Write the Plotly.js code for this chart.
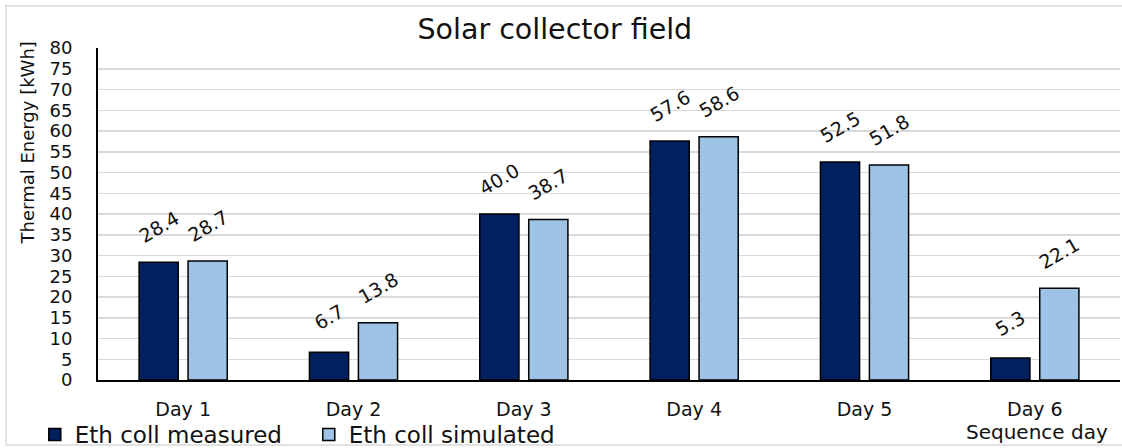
<!DOCTYPE html>
<html>
<head>
<meta charset="utf-8">
<script src="https://cdn.plot.ly/plotly-3.0.1.min.js"></script>
<style>
  html, body { margin: 0; padding: 0; background: #ffffff; }
  #chart { width: 1122px; height: 448px; }
</style>
</head>
<body>
<div id="chart"></div>
<script>
// Daily thermal energy of the solar collector field
const days = ['Day 1', 'Day 2', 'Day 3', 'Day 4', 'Day 5', 'Day 6'];
const measured = [28.4, 6.7, 40.0, 57.6, 52.5, 5.3];
const simulated = [28.7, 13.8, 38.7, 58.6, 51.8, 22.1];
const seriesNames = ['Eth coll measured', 'Eth coll simulated'];

const darkBlue = '#002060';
const lightBlue = '#9dc3e6';
const textFont = 'DejaVu Sans, sans-serif';
const ink = '#111111';

const traces = [
  {
    type: 'bar', name: seriesNames[0], x: days, y: measured,
    marker: { color: darkBlue, line: { color: '#000000', width: 1.5 } },
    hoverinfo: 'skip'
  },
  {
    type: 'bar', name: seriesNames[1], x: days, y: simulated,
    marker: { color: lightBlue, line: { color: '#000000', width: 1.5 } },
    hoverinfo: 'skip'
  }
];

// value labels, tilted above each bar
const labelShift = 24.5;
const annotations = [];
[measured, simulated].forEach((vals, s) => {
  vals.forEach((v, i) => {
    annotations.push({
      x: days[i], y: v, xref: 'x', yref: 'y',
      text: v.toFixed(1), showarrow: false, textangle: -30,
      xanchor: 'center', yanchor: 'middle',
      xshift: s === 0 ? -labelShift : labelShift, yshift: 35,
      font: { family: textFont, size: 19, color: ink }
    });
  });
});

// y-axis title
annotations.push({
  xref: 'paper', yref: 'paper', x: -0.069, y: 0.714,
  text: 'Thermal Energy [kWh]', showarrow: false, textangle: -90,
  xanchor: 'center', yanchor: 'middle',
  font: { family: textFont, size: 18, color: ink }
});
// x-axis title
annotations.push({
  xref: 'paper', yref: 'paper', x: 1, y: -0.157, xshift: -10,
  text: 'Sequence day', showarrow: false,
  xanchor: 'right', yanchor: 'middle',
  font: { family: textFont, size: 20, color: ink }
});

const layout = {
  width: 1122, height: 448,
  margin: { l: 98, r: 2, t: 48, b: 68 },
  paper_bgcolor: '#ffffff', plot_bgcolor: '#ffffff',
  title: {
    text: 'Solar collector field',
    x: 0.4945, xref: 'container', xanchor: 'center',
    y: 0.935, yref: 'container', yanchor: 'middle',
    font: { family: textFont, size: 28.5, color: ink }
  },
  bargap: 0.425, bargroupgap: 0.2,
  xaxis: {
    type: 'category', showgrid: false, zeroline: false,
    showline: true, linecolor: '#000000', linewidth: 2,
    ticks: '', ticklabelstandoff: 11,
    tickfont: { family: textFont, size: 19, color: ink }
  },
  yaxis: {
    range: [0, 80], dtick: 5, tick0: 0, fixedrange: true,
    showgrid: true, gridcolor: '#d9d9d9', gridwidth: 1.5,
    zeroline: false, showline: true, linecolor: '#000000', linewidth: 2,
    ticks: '', ticklabelstandoff: 20,
    tickfont: { family: textFont, size: 18, color: ink }
  },
  showlegend: true,
  legend: {
    orientation: 'h', xref: 'container', yref: 'container',
    x: 0.031, xanchor: 'left', y: 0.03, yanchor: 'middle',
    font: { family: textFont, size: 23, color: ink },
    itemwidth: 30, entrywidth: 229, entrywidthmode: 'pixels',
    traceorder: 'normal', bgcolor: 'rgba(0,0,0,0)'
  },
  annotations: annotations,
  shapes: [{
    type: 'rect', xref: 'paper', yref: 'paper', layer: 'below',
    x0: -0.09, x1: 1.01, y0: -0.196, y1: 1.127,
    line: { color: '#d9d9d9', width: 1.5 }, fillcolor: 'rgba(0,0,0,0)'
  }]
};

Plotly.newPlot('chart', traces, layout, { displayModeBar: false, staticPlot: true });
</script>
</body>
</html>
